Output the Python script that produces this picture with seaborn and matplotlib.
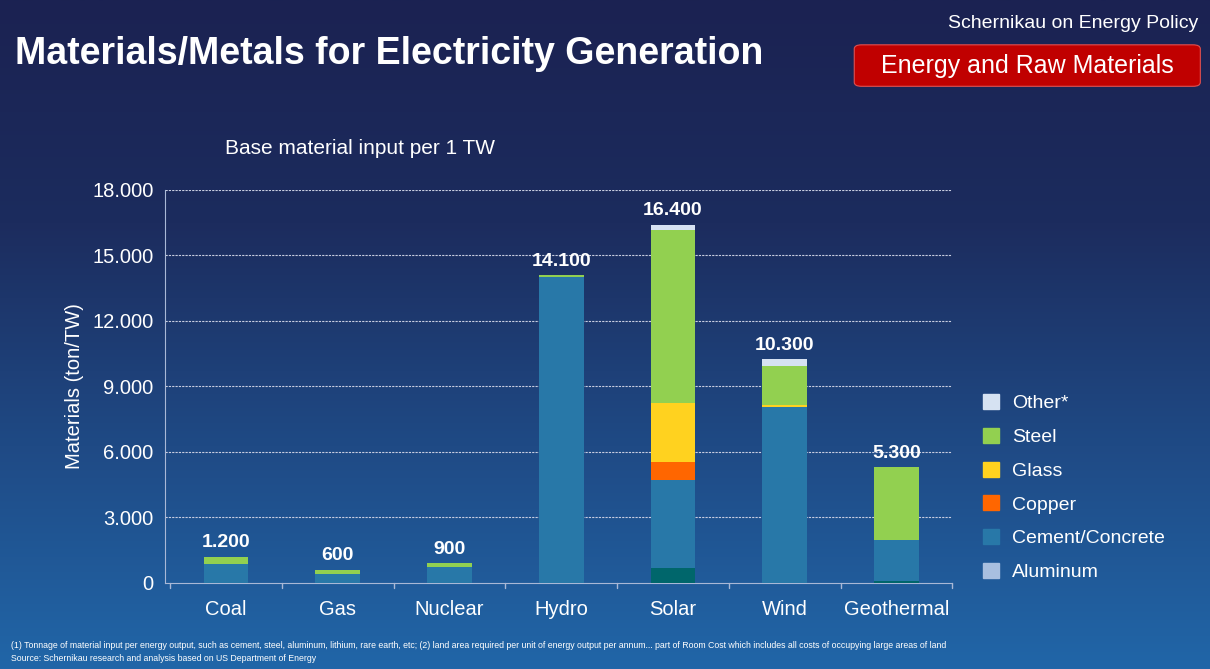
import numpy as np
import pandas as pd
import seaborn as sns
import matplotlib.pyplot as plt
from matplotlib.patches import Patch, FancyBboxPatch
from matplotlib.colors import LinearSegmentedColormap

sources = ['Coal', 'Gas', 'Nuclear', 'Hydro', 'Solar', 'Wind', 'Geothermal']
aluminum = [0, 0, 0, 0, 700, 0, 100]
cement = [850, 400, 750, 14000, 4000, 8050, 1850]
copper = [0, 0, 0, 0, 850, 0, 0]
glass = [0, 0, 0, 0, 2700, 100, 0]
steel = [350, 200, 150, 100, 7900, 1800, 3350]
other = [0, 0, 0, 0, 250, 300, 0]
totals = ['1.200', '600', '900', '14.100', '16.400', '10.300', '5.300']

layers = [('Aluminum', aluminum, '#00666b'), ('Cement/Concrete', cement, '#2878a8'),
          ('Copper', copper, '#ff6600'), ('Glass', glass, '#ffd21f'),
          ('Steel', steel, '#92d050'), ('Other*', other, '#d6e2f2')]
legend_colors = {'Aluminum': '#a8bfe0'}

sns.set_style('white')
plt.rcParams['font.family'] = ['Liberation Sans', 'DejaVu Sans']

fig = plt.figure(figsize=(12.1, 6.69), dpi=100)
bg = fig.add_axes([0, 0, 1, 1])
grad = np.linspace(0, 1, 256).reshape(-1, 1)
cmap = LinearSegmentedColormap.from_list('bg', ['#1b2252', '#1c2c5e', '#1f4a85', '#2166a8'])
bg.imshow(grad, aspect='auto', cmap=cmap, extent=[0, 1, 0, 1], origin='upper')
bg.axis('off')

ax = fig.add_axes([0.136, 0.1286, 0.651, 0.5874])
ax.patch.set_alpha(0)
bottom = np.zeros(len(sources))
for name, vals, col in layers:
    df = pd.DataFrame({'source': sources, 'v': vals})
    sns.barplot(data=df, x='source', y='v', bottom=bottom, width=0.4, color=col,
                edgecolor='none', saturation=1, ax=ax, zorder=3)
    bottom += np.array(vals)
for i, t in enumerate(totals):
    ax.text(i, bottom[i] + 250, t, ha='center', va='bottom', color='white', fontsize=14, fontweight='bold')

ax.set_ylim(0, 18000)
ax.set_xlim(-0.55, 6.5)
ax.set_yticks(np.arange(0, 18001, 3000))
ax.set_yticklabels(['0'] + [f'{v // 1000}.000' for v in range(3000, 18001, 3000)], color='white', fontsize=14.5)
ax.set_xticks(range(len(sources)))
ax.set_xticklabels(sources, color='white', fontsize=14.5)
ax.set_xlabel('')
ax.tick_params(axis='x', length=0, pad=12)
ax.tick_params(axis='y', length=0, pad=8)
for y in range(3000, 18001, 3000):
    ax.axhline(y, color='#c8cde0', lw=0.8, ls=(0, (2, 1)), zorder=1)
for s in ['top', 'right']:
    ax.spines[s].set_visible(False)
for s in ['left', 'bottom']:
    ax.spines[s].set_color('#a9b8d6')
for x in np.arange(-0.5, 6.6, 1):
    ax.plot([x, x], [0, -250], color='#a9b8d6', lw=1, clip_on=False)
ax.set_ylabel('Materials (ton/TW)', color='white', fontsize=14.5, labelpad=6)

handles = [Patch(color=legend_colors.get(n, c), label=n) for n, v, c in reversed(layers)]
fig.legend(handles=handles, loc='upper left', bbox_to_anchor=(0.798, 0.437), frameon=False,
           fontsize=14, labelcolor='white', handlelength=0.8, handleheight=0.8, labelspacing=0.8,
           handletextpad=0.7)

fig.text(0.012, 0.92, 'Materials/Metals for Electricity Generation', color='white', fontsize=27,
         fontweight='bold', va='center')
fig.text(0.99, 0.965, 'Schernikau on Energy Policy', color='white', fontsize=14, ha='right', va='center')
box = FancyBboxPatch((0.706, 0.871), 0.286, 0.062, boxstyle='round,pad=0.0,rounding_size=0.006',
                     transform=fig.transFigure, facecolor='#c00000', edgecolor='#e05050', lw=0.8)
fig.add_artist(box)
fig.text(0.849, 0.901, 'Energy and Raw Materials', color='white', fontsize=18, ha='center', va='center')
fig.text(0.186, 0.778, 'Base material input per 1 TW', color='white', fontsize=15, va='center')
fig.text(0.009, 0.035, '(1) Tonnage of material input per energy output, such as cement, steel, aluminum, lithium, rare earth, etc; '
         '(2) land area required per unit of energy output per annum... part of Room Cost which includes all costs of occupying large areas of land',
         color='white', fontsize=6.3, va='center')
fig.text(0.009, 0.016, 'Source: Schernikau research and analysis based on US Department of Energy',
         color='white', fontsize=6.3, va='center')

fig.savefig('out.png', dpi=100)
